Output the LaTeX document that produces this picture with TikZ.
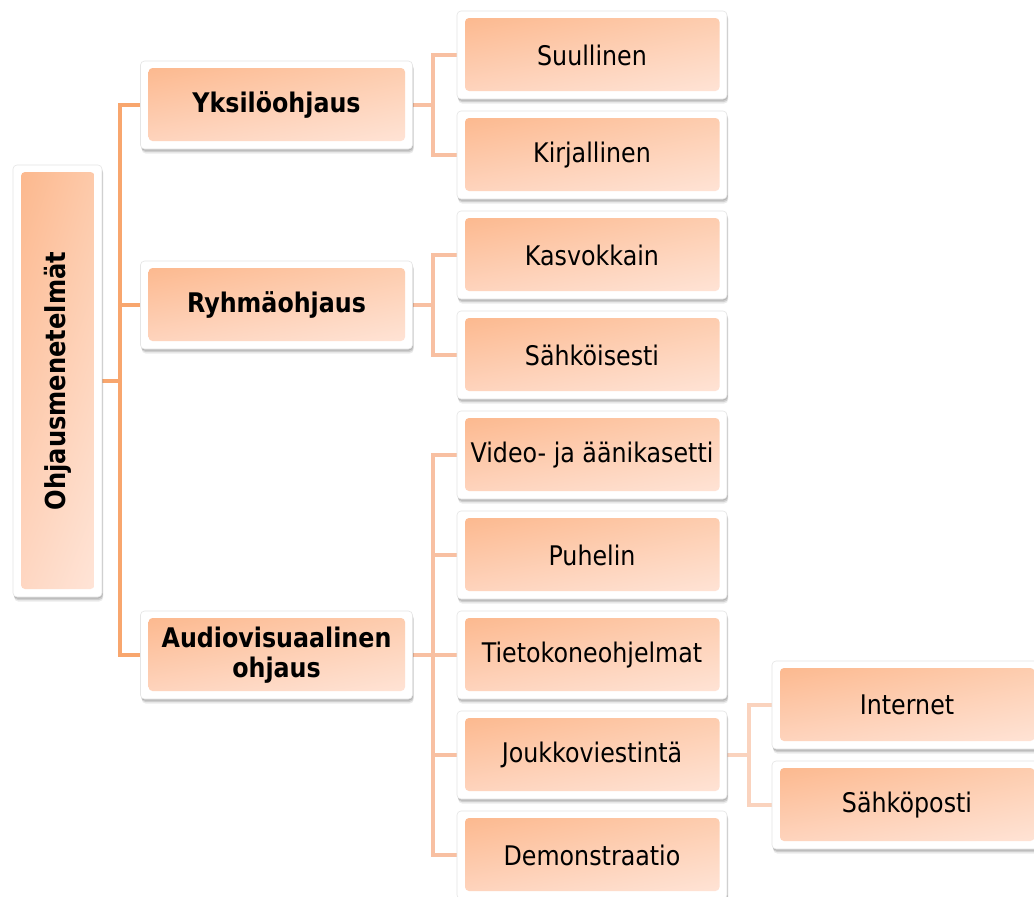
\documentclass[tikz,border=0pt]{standalone}
\usepackage{graphicx}
\usepackage{fontspec}
\setmainfont[FakeStretch=0.88]{DejaVu Sans}
\usetikzlibrary{shadows,shadings,calc,backgrounds}
\definecolor{ulc}{RGB}{252,182,138}
\definecolor{urc}{RGB}{253,203,172}
\definecolor{llc}{RGB}{254,214,193}
\definecolor{lrc}{RGB}{255,230,218}
\definecolor{lineA}{RGB}{248,166,110}
\definecolor{lineB}{RGB}{248,192,162}
\definecolor{lineC}{RGB}{250,211,190}
\tikzset{
  box/.style={fill=white, draw=black!10, line width=0.6pt, rounded corners=4pt,
    inner sep=0pt, align=center,
    font=\fontsize{27}{30}\selectfont,
    drop shadow={shadow xshift=0.5pt, shadow yshift=-1.5pt, opacity=0.12, fill=black},
    drop shadow={shadow xshift=1pt, shadow yshift=-3pt, opacity=0.12, fill=black},
    drop shadow={shadow xshift=1.2pt, shadow yshift=-4.5pt, opacity=0.08, fill=black},
    path picture={\shade[upper left=ulc, upper right=urc, lower left=llc, lower right=lrc]
      ($(path picture bounding box.south west)+(8pt,8pt)$) rectangle
      ($(path picture bounding box.north east)-(7.5pt,7pt)$);}},
  rootbox/.style={box, minimum width=89pt, minimum height=432pt},
  lonebox/.style={box, minimum width=272pt, minimum height=88pt,
    font=\fontsize{27}{30}\selectfont\bfseries},
  ltwobox/.style={box, minimum width=270pt, minimum height=88pt},
  connA/.style={draw=lineA, line width=4pt},
  connB/.style={draw=lineB, line width=4pt},
  connC/.style={draw=lineC, line width=4pt},
}
\begin{document}
\begin{tikzpicture}[x=1pt,y=-1pt]
\clip (0,0) rectangle (1034,897);
% nodes
\node[rootbox] (root) at (57.5,381) {\rotatebox{90}{\fontsize{27.5}{30}\selectfont\bfseries Ohjausmenetelmät}};
\node[lonebox] (yks) at (276.5,105) {Yksilöohjaus};
\node[lonebox] (ryh) at (276.5,305) {Ryhmäohjaus};
\node[lonebox] (av) at (276.5,655) {Audiovisuaalinen\\ohjaus};
\node[ltwobox] (suu) at (592,55) {Suullinen};
\node[ltwobox] (kir) at (592,155) {Kirjallinen};
\node[ltwobox] (kas) at (592,255) {Kasvokkain};
\node[ltwobox] (sah) at (592,355) {Sähköisesti};
\node[ltwobox] (vid) at (592,455) {Video- ja äänikasetti};
\node[ltwobox] (puh) at (592,555) {Puhelin};
\node[ltwobox] (tie) at (592,655) {Tietokoneohjelmat};
\node[ltwobox] (jou) at (592,755) {Joukkoviestintä};
\node[ltwobox] (dem) at (592,855) {Demonstraatio};
\node[ltwobox] (int) at (907,705) {Internet};
\node[ltwobox] (spo) at (907,805) {Sähköposti};
% junction coordinates
\coordinate (j0) at (120,381);
\coordinate (j1) at (433,105);
\coordinate (j2) at (433,305);
\coordinate (j3) at (433,655);
\coordinate (j4) at (749,755);
\begin{scope}[on background layer]
\fill[white] (0,0) rectangle (1034,897);
\draw[connA] (root.east) -- (j0);
\draw[connA] (j0) |- (yks.west);
\draw[connA] (j0) |- (ryh.west);
\draw[connA] (j0) |- (av.west);
\draw[connB] (yks.east) -- (j1);
\draw[connB] (j1) |- (suu.west);
\draw[connB] (j1) |- (kir.west);
\draw[connB] (ryh.east) -- (j2);
\draw[connB] (j2) |- (kas.west);
\draw[connB] (j2) |- (sah.west);
\draw[connB] (av.east) -- (j3);
\draw[connB] (j3) |- (vid.west);
\draw[connB] (j3) |- (puh.west);
\draw[connB] (j3) |- (tie.west);
\draw[connB] (j3) |- (jou.west);
\draw[connB] (j3) |- (dem.west);
\draw[connC] (jou.east) -- (j4);
\draw[connC] (j4) |- (int.west);
\draw[connC] (j4) |- (spo.west);
\end{scope}
\end{tikzpicture}
\end{document}
